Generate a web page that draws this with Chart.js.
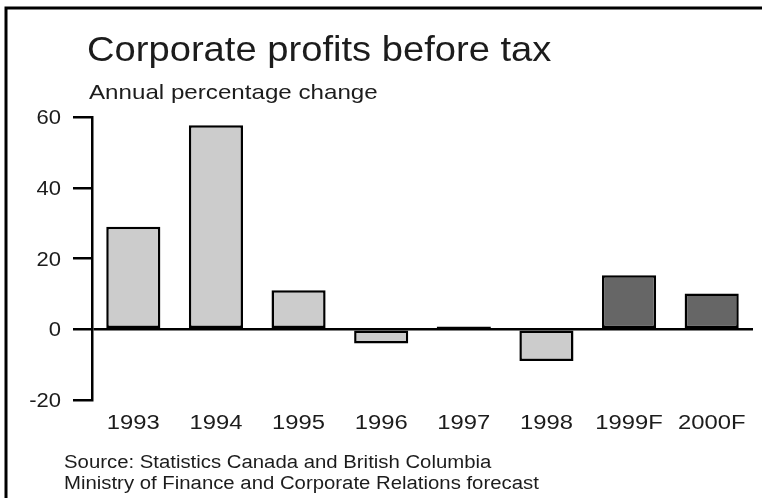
<!DOCTYPE html>
<html>
<head>
<meta charset="utf-8">
<title>Corporate profits before tax</title>
<script src="https://cdn.jsdelivr.net/npm/chart.js@4.4.1/dist/chart.umd.min.js"></script>
<style>
  html, body { margin: 0; padding: 0; background: #fff; }
  canvas { display: block; }
</style>
</head>
<body>
<canvas id="grafico" width="762" height="498"></canvas>
<script>
// dati: variazione annua dei profitti (1999 e 2000 sono previsioni)
const anni = ["1993", "1994", "1995", "1996", "1997", "1998", "1999F", "2000F"];
const variazioni = [29, 57.7, 11, -4, 0.8, -9, 15.3, 10.1];
const previsione = [false, false, false, false, false, false, true, true];
const tickY = [60, 40, 20, 0, -20];

const titolo = "Corporate profits before tax";
const sottotitolo = "Annual percentage change";
const fonte = [
  "Source: Statistics Canada and British Columbia",
  "Ministry of Finance and Corporate Relations forecast"
];

// scrive un testo allargato in orizzontale di sx
function scrivi(ctx, testo, x, y, size, sx, align) {
  ctx.save();
  ctx.font = size + 'px "Liberation Sans", Arial, sans-serif';
  ctx.fillStyle = "#1c1c1c";
  ctx.textBaseline = "alphabetic";
  ctx.textAlign = "left";
  const w = ctx.measureText(testo).width * sx;
  let x0 = x;
  if (align === "center") x0 = x - w / 2;
  if (align === "right") x0 = x - w;
  ctx.translate(x0, y);
  ctx.scale(sx, 1);
  ctx.fillText(testo, 0, 0);
  ctx.restore();
}

// cornice, titoli, etichette degli assi e fonte
const decorazioni = {
  id: "decorazioni",
  afterDraw(chart) {
    const ctx = chart.ctx;
    ctx.save();
    ctx.strokeStyle = "#000";
    ctx.lineWidth = 3;
    ctx.beginPath();
    ctx.moveTo(6, 498);
    ctx.lineTo(6, 8);
    ctx.lineTo(762, 8);
    ctx.stroke();
    ctx.restore();

    scrivi(ctx, titolo, 87, 61, 35, 1.09, "left");
    scrivi(ctx, sottotitolo, 89, 99, 21, 1.15, "left");

    const scalaY = chart.scales.y;
    const scalaX = chart.scales.x;
    tickY.forEach(v => {
      scrivi(ctx, String(v), 61, scalaY.getPixelForValue(v) + 7, 20, 1.1, "right");
    });
    anni.forEach((a, i) => {
      scrivi(ctx, a, scalaX.getPixelForValue(i), 429, 20, 1.19, "center");
    });

    scrivi(ctx, fonte[0], 64, 468, 18, 1.13, "left");
    scrivi(ctx, fonte[1], 64, 489, 18, 1.13, "left");
  }
};

const grafico = new Chart(document.getElementById("grafico"), {
  type: "bar",
  data: {
    labels: anni,
    datasets: [{
      data: variazioni,
      backgroundColor: previsione.map(p => p ? "#666666" : "#cccccc"),
      borderColor: "#000",
      borderWidth: 2.5,
      borderSkipped: false,
      barPercentage: 0.655,
      categoryPercentage: 1
    }]
  },
  options: {
    responsive: false,
    animation: false,
    devicePixelRatio: 1,
    events: [],
    layout: { padding: { top: 117, right: 9, left: 0, bottom: 0 } },
    plugins: {
      legend: { display: false },
      tooltip: { enabled: false }
    },
    scales: {
      x: {
        grid: { display: false },
        border: { display: false },
        ticks: { display: false },
        afterFit(scale) { scale.height = 98; }
      },
      y: {
        min: -20,
        max: 60,
        ticks: { stepSize: 20, display: false },
        border: { display: true, color: "#000", width: 2.5 },
        grid: {
          drawOnChartArea: true,
          drawTicks: true,
          tickLength: 19,
          tickColor: "#000",
          lineWidth: 2.5,
          // solo la linea dello zero attraversa il grafico
          color: c => (c.tick && c.tick.value === 0) ? "#000" : "rgba(0,0,0,0)"
        },
        afterFit(scale) { scale.width = 92; }
      }
    }
  },
  plugins: [decorazioni]
});
</script>
</body>
</html>
